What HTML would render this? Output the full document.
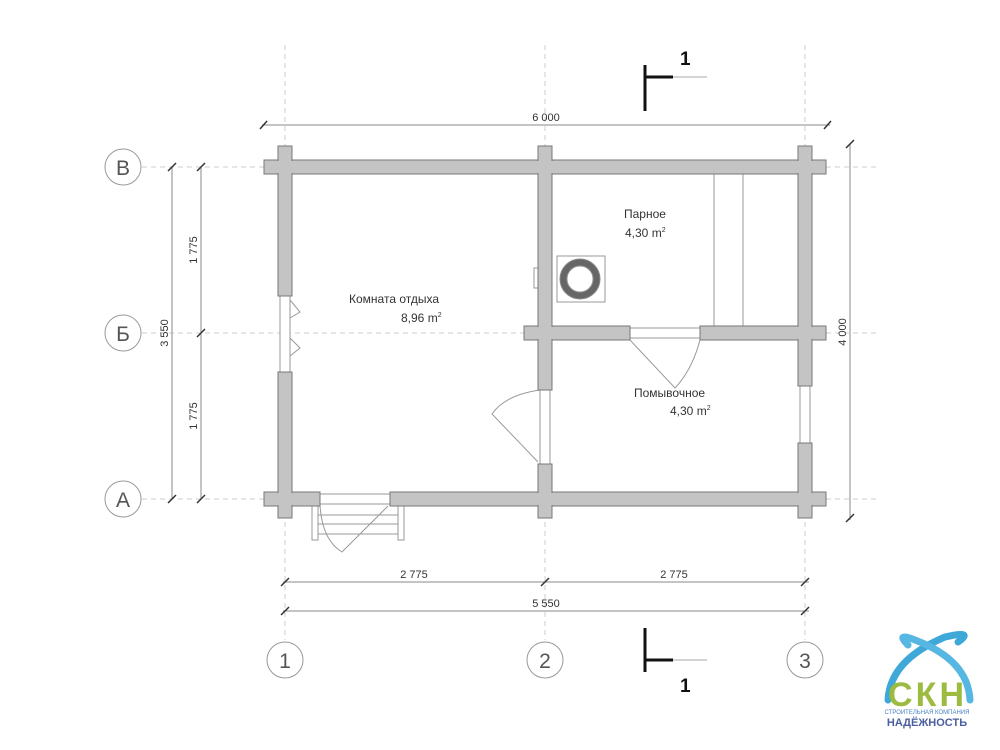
<!DOCTYPE html>
<html><head><meta charset="utf-8"><style>
html,body{margin:0;padding:0;background:#fff}
svg{display:block}
text{font-family:"Liberation Sans",sans-serif;fill:#333}
</style></head><body>
<svg width="1000" height="750" viewBox="0 0 1000 750" xmlns="http://www.w3.org/2000/svg">
<!-- grid lines -->
<g stroke="#ccc" stroke-width="1" stroke-dasharray="5,4" fill="none">
<line x1="285" y1="45" x2="285" y2="640"/>
<line x1="545" y1="45" x2="545" y2="640"/>
<line x1="805" y1="45" x2="805" y2="640"/>
<line x1="142" y1="167" x2="880" y2="167"/>
<line x1="142" y1="333" x2="880" y2="333"/>
<line x1="142" y1="499" x2="880" y2="499"/>
</g>
<!-- fixtures -->
<g stroke="#999" stroke-width="1" fill="#fff">
<line x1="714" y1="174" x2="714" y2="326"/>
<line x1="743" y1="174" x2="743" y2="326"/>
<rect x="534" y="268" width="12" height="20"/>
<rect x="557" y="256" width="48" height="46"/>
<rect x="292" y="296" width="0" height="76"/>
<rect x="280" y="296" width="10" height="76"/>
<rect x="540" y="390" width="10" height="74"/>
<rect x="800" y="386" width="10" height="57"/>
<rect x="630" y="328" width="70" height="10"/>
<rect x="320" y="494" width="70" height="10"/>
<rect x="312" y="506" width="6" height="34"/>
<rect x="398" y="506" width="6" height="34"/>
<line x1="318" y1="515" x2="398" y2="515"/>
<line x1="318" y1="524" x2="398" y2="524"/>
<line x1="318" y1="534" x2="398" y2="534"/>
<path d="M320 505 Q322 540 342 552 L388 506" fill="none"/>
<path d="M540 390 Q505 395 492 414 L538 462" fill="none"/>
<path d="M630 340 L675 388 Q692 370 700 340" fill="none"/>
<path d="M290 300 L300 312 L290 318 M290 338 L300 348 L290 356" fill="none"/>
</g>
<circle cx="580" cy="279" r="20" fill="#666" stroke="#888"/>
<circle cx="580" cy="279" r="13" fill="#fff" stroke="#999"/>
<!-- walls -->
<g fill="#c4c4c4" stroke="#777" stroke-width="1">
<rect x="264" y="160" width="562" height="14"/>
<rect x="264" y="492" width="56" height="14"/>
<rect x="390" y="492" width="436" height="14"/>
<rect x="524" y="326" width="106" height="14"/>
<rect x="700" y="326" width="126" height="14"/>
<rect x="278" y="146" width="14" height="150"/>
<rect x="278" y="372" width="14" height="146"/>
<rect x="538" y="146" width="14" height="244"/>
<rect x="538" y="464" width="14" height="54"/>
<rect x="798" y="146" width="14" height="240"/>
<rect x="798" y="443" width="14" height="75"/>
</g>
<g fill="#c4c4c4">
<rect x="265" y="161" width="560" height="12"/>
<rect x="279" y="147" width="12" height="148"/>
<rect x="539" y="147" width="12" height="242"/>
<rect x="799" y="147" width="12" height="238"/>
<rect x="279" y="373" width="12" height="144"/>
<rect x="265" y="493" width="54" height="12"/>
<rect x="391" y="493" width="434" height="12"/>
<rect x="539" y="465" width="12" height="52"/>
<rect x="799" y="444" width="12" height="73"/>
<rect x="525" y="327" width="104" height="12"/>
<rect x="701" y="327" width="124" height="12"/>
</g>
<!-- dimension lines -->
<g stroke="#888" stroke-width="1">
<line x1="262" y1="125" x2="830" y2="125"/>
<line x1="850" y1="144" x2="850" y2="520"/>
<line x1="172" y1="167" x2="172" y2="499"/>
<line x1="201" y1="167" x2="201" y2="499"/>
<line x1="283" y1="582" x2="809" y2="582"/>
<line x1="283" y1="611" x2="809" y2="611"/>
</g>
<g stroke="#333" stroke-width="1.5">
<line x1="260" y1="129" x2="267" y2="121"/><line x1="824" y1="129" x2="831" y2="121"/>
<line x1="846" y1="148" x2="854" y2="140"/><line x1="846" y1="522" x2="854" y2="514"/>
<line x1="168" y1="171" x2="176" y2="163"/><line x1="168" y1="503" x2="176" y2="495"/>
<line x1="197" y1="171" x2="205" y2="163"/><line x1="197" y1="337" x2="205" y2="329"/><line x1="197" y1="503" x2="205" y2="495"/>
<line x1="281" y1="586" x2="289" y2="578"/><line x1="541" y1="586" x2="549" y2="578"/><line x1="801" y1="586" x2="809" y2="578"/>
<line x1="281" y1="615" x2="289" y2="607"/><line x1="801" y1="615" x2="809" y2="607"/>
</g>
<g font-size="11">
<text x="546" y="121" text-anchor="middle">6 000</text>
<text x="414" y="578" text-anchor="middle">2 775</text>
<text x="674" y="578" text-anchor="middle">2 775</text>
<text x="546" y="607" text-anchor="middle">5 550</text>
<text transform="translate(846,332) rotate(-90)" text-anchor="middle">4 000</text>
<text transform="translate(168,333) rotate(-90)" text-anchor="middle">3 550</text>
<text transform="translate(197,250) rotate(-90)" text-anchor="middle">1 775</text>
<text transform="translate(197,416) rotate(-90)" text-anchor="middle">1 775</text>
</g>
<!-- axis circles -->
<g fill="#fff" stroke="#999" stroke-width="1">
<circle cx="123" cy="167" r="18"/><circle cx="123" cy="333" r="18"/><circle cx="123" cy="499" r="18"/>
<circle cx="285" cy="660" r="18"/><circle cx="545" cy="660" r="18"/><circle cx="805" cy="660" r="18"/>
</g>
<g font-size="21" fill="#555" text-anchor="middle">
<text x="123" y="175" style="fill:#555">В</text><text x="123" y="341" style="fill:#555">Б</text><text x="123" y="507" style="fill:#555">А</text>
<text x="285" y="668" style="fill:#555">1</text><text x="545" y="668" style="fill:#555">2</text><text x="805" y="668" style="fill:#555">3</text>
</g>
<!-- section marks -->
<g stroke="#111">
<line x1="645" y1="65" x2="645" y2="111" stroke-width="3"/>
<line x1="645" y1="77" x2="673" y2="77" stroke-width="3"/>
<line x1="673" y1="77" x2="707" y2="77" stroke-width="1" stroke="#aaa"/>
<line x1="645" y1="628" x2="645" y2="672" stroke-width="3"/>
<line x1="645" y1="660" x2="673" y2="660" stroke-width="3"/>
<line x1="673" y1="660" x2="707" y2="660" stroke-width="1" stroke="#aaa"/>
</g>
<text x="680" y="65" font-size="19" font-weight="bold" style="fill:#111">1</text>
<text x="680" y="692" font-size="19" font-weight="bold" style="fill:#111">1</text>
<!-- labels -->
<g font-size="12">
<text x="349" y="303">Комната отдыха</text>
<text x="401" y="322">8,96 m<tspan font-size="7" dy="-5">2</tspan></text>
<text x="624" y="218">Парное</text>
<text x="625" y="237">4,30 m<tspan font-size="7" dy="-5">2</tspan></text>
<text x="634" y="397">Помывочное</text>
<text x="670" y="415">4,30 m<tspan font-size="7" dy="-5">2</tspan></text>
</g>
<!-- logo -->
<g fill="none" stroke="#3ea8d8" stroke-width="7" stroke-linecap="round">
<path d="M888 700 Q890 660 945 637 Q975 630 958 642"/>
<path d="M970 700 Q968 660 915 640 Q895 632 908 645" stroke="#55b7e2"/>
</g>
<text x="926" y="706" text-anchor="middle" font-size="34" font-weight="bold" style="fill:#9dbb40" textLength="76">СКН</text>
<text x="927" y="714" text-anchor="middle" font-size="6" style="fill:#4a7fc0">СТРОИТЕЛЬНАЯ КОМПАНИЯ</text>
<text x="927" y="726" text-anchor="middle" font-size="11" font-weight="bold" style="fill:#4a5fa0">НАДЁЖНОСТЬ</text>
</svg>
</body></html>
